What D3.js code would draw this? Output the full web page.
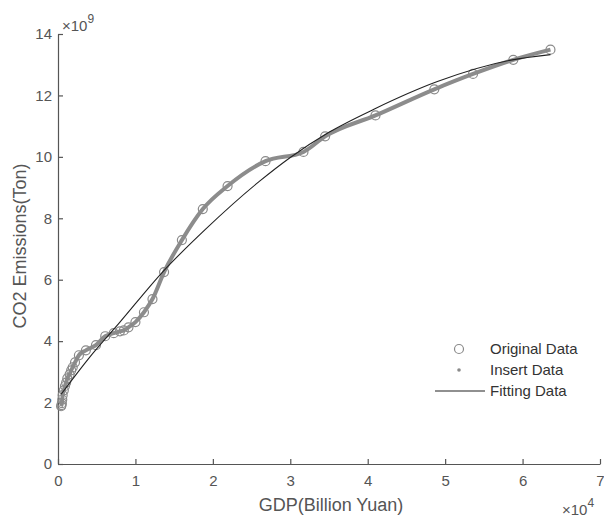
<!DOCTYPE html>
<html>
<head>
<meta charset="utf-8">
<script src="https://cdn.jsdelivr.net/npm/d3@7"></script>
<style>
  body { margin: 0; background: #fff; }
  svg text { font-family: "Liberation Sans", Arial, sans-serif; fill: #555; }
</style>
</head>
<body>
<div id="chart"></div>
<script>
// GDP in units of 10^4 billion yuan, CO2 in units of 10^9 ton
var gdp = [0.04, 0.045, 0.05, 0.055, 0.06, 0.075, 0.09, 0.105, 0.12, 0.15, 0.17, 0.19,
           0.22, 0.27, 0.36, 0.49, 0.61, 0.72, 0.8, 0.85, 0.91, 1.0, 1.11, 1.22,
           1.37, 1.6, 1.87, 2.19, 2.68, 3.17, 3.45, 4.1, 4.86, 5.36, 5.88, 6.36];
var co2 = [1.88, 1.92, 1.98, 2.1, 2.24, 2.4, 2.54, 2.65, 2.79, 2.92, 3.05, 3.15,
           3.31, 3.54, 3.70, 3.87, 4.16, 4.26, 4.32, 4.35, 4.45, 4.62, 4.94, 5.37,
           6.25, 7.29, 8.3, 9.05, 9.86, 10.16, 10.67, 11.35, 12.2, 12.7, 13.16, 13.49];

// fitted curve
var fitX = [0.04, 0.4, 0.8, 1.35, 1.9, 2.6, 3.0, 3.5, 4.08, 4.9, 5.85, 6.36];
var fitY = [2.27, 3.45, 4.62, 6.25, 7.63, 9.2, 9.98, 10.8, 11.55, 12.45, 13.15, 13.33];

var xTicks = [0, 1, 2, 3, 4, 5, 6, 7];
var yTicks = [0, 2, 4, 6, 8, 10, 12, 14];
var legendLabels = ["Original Data", "Insert Data", "Fitting Data"];

var margin = { top: 34, right: 4, bottom: 54, left: 58 };
var width = 604 - margin.left - margin.right;
var height = 518 - margin.top - margin.bottom;

var svg = d3.select("#chart").append("svg")
    .attr("width", 604)
    .attr("height", 518)
  .append("g")
    .attr("transform", "translate(" + margin.left + "," + margin.top + ")");

var x = d3.scaleLinear().domain([0, 7]).range([0, width]);
var y = d3.scaleLinear().domain([0, 14]).range([height, 0]);

var data = gdp.map(function(d, i) { return { x: d, y: co2[i] }; });
var fit = fitX.map(function(d, i) { return { x: d, y: fitY[i] }; });

// axes (ticks inside, like matlab)
svg.append("g")
    .attr("class", "xaxis")
    .attr("transform", "translate(0," + height + ")")
    .call(d3.axisBottom(x).tickValues(xTicks).tickFormat(d3.format("d"))
        .tickSize(-5).tickPadding(11).tickSizeOuter(0));

svg.append("g")
    .attr("class", "yaxis")
    .call(d3.axisLeft(y).tickValues(yTicks).tickFormat(d3.format("d"))
        .tickSize(-5).tickPadding(6).tickSizeOuter(0));

svg.selectAll(".domain, .tick line").attr("stroke", "#555").attr("stroke-width", 1.2);
svg.selectAll(".tick text").attr("font-size", 15).style("fill", "#555")
    .attr("font-family", "Liberation Sans, Arial, sans-serif");

// insert data (thick grey line through the points)
var insertLine = d3.line()
    .curve(d3.curveMonotoneX)
    .x(function(d) { return x(d.x); })
    .y(function(d) { return y(d.y); });

svg.append("path")
    .datum(data)
    .attr("fill", "none")
    .attr("stroke", "#8c8c8c")
    .attr("stroke-width", 4)
    .attr("stroke-linejoin", "round")
    .attr("d", insertLine);

// original data circles
svg.selectAll(".orig")
    .data(data)
  .enter().append("circle")
    .attr("class", "orig")
    .attr("cx", function(d) { return x(d.x); })
    .attr("cy", function(d) { return y(d.y); })
    .attr("r", 4.5)
    .attr("fill", "none")
    .attr("stroke", "#8a8a8a")
    .attr("stroke-width", 1.2);

// fitting line
var fitLine = d3.line()
    .curve(d3.curveMonotoneX)
    .x(function(d) { return x(d.x); })
    .y(function(d) { return y(d.y); });

svg.append("path")
    .datum(fit)
    .attr("fill", "none")
    .attr("stroke", "#222")
    .attr("stroke-width", 1.1)
    .attr("d", fitLine);

// axis labels
svg.append("text")
    .attr("x", 331 - margin.left)
    .attr("y", height + 47)
    .attr("text-anchor", "middle")
    .attr("font-size", 18)
    .text("GDP(Billion Yuan)");

svg.append("text")
    .attr("transform", "translate(" + (-32) + "," + (246 - margin.top) + ") rotate(-90)")
    .attr("text-anchor", "middle")
    .attr("font-size", 18)
    .text("CO2 Emissions(Ton)");

// exponent labels
var ex9 = svg.append("text").attr("x", 4).attr("y", -3).attr("font-size", 15);
ex9.append("tspan").text("\u00d710");
ex9.append("tspan").attr("dy", -8).attr("font-size", 12).text("9");

var ex4 = svg.append("text").attr("x", width - 38).attr("y", height + 51).attr("font-size", 15);
ex4.append("tspan").text("\u00d710");
ex4.append("tspan").attr("dy", -8).attr("font-size", 12).text("4");

// legend
var legend = svg.append("g").attr("transform", "translate(" + (459 - margin.left) + "," + (349 - margin.top) + ")");
legend.append("circle").attr("cx", 0).attr("cy", 0).attr("r", 4.5)
    .attr("fill", "none").attr("stroke", "#8a8a8a").attr("stroke-width", 1.2);
legend.append("circle").attr("cx", 0).attr("cy", 21).attr("r", 1.8).attr("fill", "#8a8a8a");
legend.append("line").attr("x1", -24).attr("x2", 26).attr("y1", 42).attr("y2", 42)
    .attr("stroke", "#222").attr("stroke-width", 1.1);
legend.selectAll(".ltext")
    .data(legendLabels)
  .enter().append("text")
    .attr("class", "ltext")
    .attr("x", 31)
    .attr("y", function(d, i) { return i * 21 + 5; })
    .attr("font-size", 15)
    .style("fill", "#333")
    .text(function(d) { return d; });
</script>
</body>
</html>
